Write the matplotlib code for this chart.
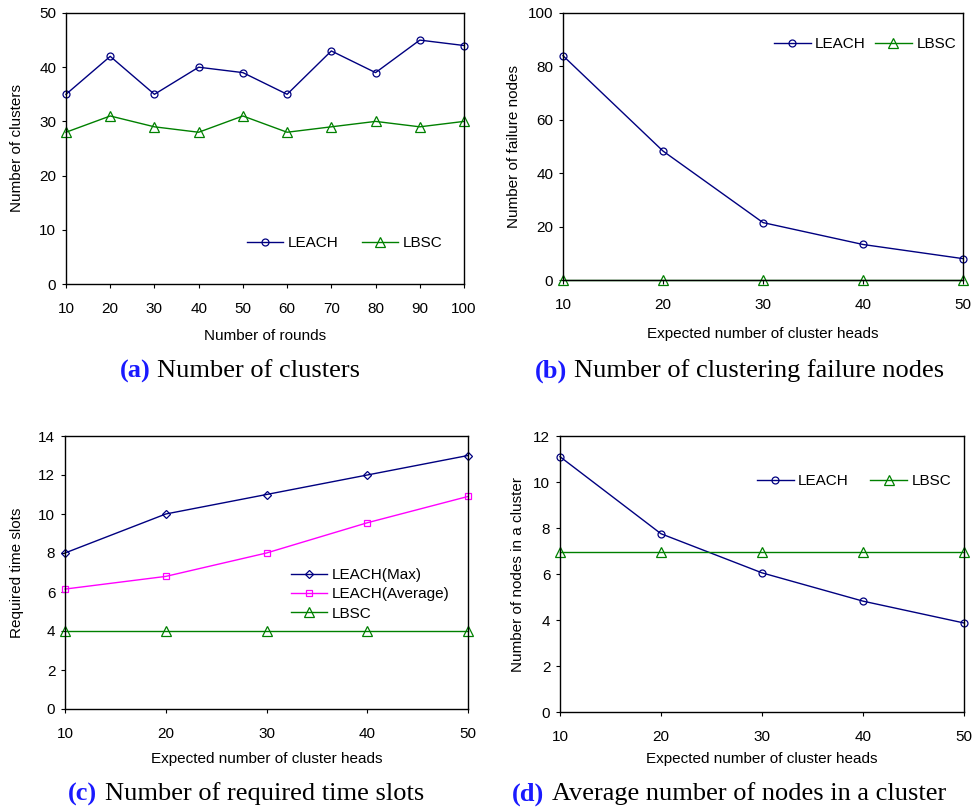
import matplotlib
matplotlib.use("Agg")
import matplotlib.pyplot as plt

plt.rcParams['font.family'] = ['Liberation Sans', 'DejaVu Sans']

# (a) Number of clusters
rounds = [10, 20, 30, 40, 50, 60, 70, 80, 90, 100]
a_leach = [35, 42, 35, 40, 39, 35, 43, 39, 45, 44]
a_lbsc = [28, 31, 29, 28, 31, 28, 29, 30, 29, 30]

# (b)-(d) share the same x values
heads = [10, 20, 30, 40, 50]
b_leach = [84, 48.3, 21.5, 13.3, 8]
b_lbsc = [0, 0, 0, 0, 0]

c_leach_max = [8, 10, 11, 12, 13]
c_leach_avg = [6.15, 6.8, 8, 9.55, 10.9]
c_lbsc = [4, 4, 4, 4, 4]

d_leach = [11.1, 7.75, 6.05, 4.82, 3.87]
d_lbsc = [6.95, 6.95, 6.95, 6.95, 6.95]

NAVY = '#000080'
GREEN = '#008000'
MAGENTA = '#FF00FF'

W, H = 974, 808
fig = plt.figure(figsize=(9.74, 8.08), dpi=100)


def make_ax(left, top, right, bottom):
    return fig.add_axes([left / W, 1 - bottom / H, (right - left) / W, (bottom - top) / H])


def style(ax, xlim, ylim, yticks, xticks, xlabel, ylabel, xpad, ypad):
    ax.set_xlim(*xlim)
    ax.set_ylim(*ylim)
    ax.set_xticks(xticks)
    ax.set_yticks(yticks)
    ax.tick_params(direction='out', length=3, width=0.8, labelsize=11)
    ax.tick_params(axis='x', pad=10)
    ax.tick_params(axis='y', pad=4)
    for s in ax.spines.values():
        s.set_linewidth(1.0)
    ax.set_xlabel(xlabel, fontsize=11, labelpad=xpad)
    ax.set_ylabel(ylabel, fontsize=11, labelpad=ypad)


def line(ax, x, y, color, marker, label):
    ms = {'o': 5, '^': 6.5, 's': 5, 'D': 4.5}[marker]
    ax.plot(x, y, color=color, lw=1.0, marker=marker, ms=ms, mfc='none',
            mec=color, mew=0.9, label=label, clip_on=False)


def caption(x_tag, x_text, y, tag, text):
    fig.text(x_tag / W, 1 - y / H, tag, color='#1a1aff', fontweight='bold',
             family='Liberation Serif', fontsize=19, va='center', ha='left')
    fig.text(x_text / W, 1 - y / H, text, color='black',
             family='Liberation Serif', fontsize=19, va='center', ha='left')


leg_kw = dict(frameon=False, fontsize=11, handlelength=2.4, handletextpad=0.3,
              borderaxespad=0, loc='center')

# (a)
ax = make_ax(66, 13, 464, 284)
line(ax, rounds, a_leach, NAVY, 'o', 'LEACH')
line(ax, rounds, a_lbsc, GREEN, '^', 'LBSC')
style(ax, (10, 100), (0, 50), range(0, 51, 10), rounds, 'Number of rounds',
      'Number of clusters', 9, 11)
ax.legend(ncol=2, columnspacing=1.5, bbox_to_anchor=(0.70, 0.15), **leg_kw)
caption(120, 157, 371, '(a)', 'Number of clusters')

# (b)
ax = make_ax(563, 13, 963, 280)
line(ax, heads, b_leach, NAVY, 'o', 'LEACH')
line(ax, heads, b_lbsc, GREEN, '^', 'LBSC')
style(ax, (10, 50), (0, 100), range(0, 101, 20), heads, 'Expected number of cluster heads',
      'Number of failure nodes', 11, 5)
ax.legend(ncol=2, columnspacing=0.6, bbox_to_anchor=(0.755, 0.884), **leg_kw)
caption(535, 574, 371, '(b)', 'Number of clustering failure nodes')

# (c)
ax = make_ax(65, 436, 468, 709)
line(ax, heads, c_leach_max, NAVY, 'D', 'LEACH(Max)')
line(ax, heads, c_leach_avg, MAGENTA, 's', 'LEACH(Average)')
line(ax, heads, c_lbsc, GREEN, '^', 'LBSC')
style(ax, (10, 50), (0, 14), range(0, 15, 2), heads, 'Expected number of cluster heads',
      'Required time slots', 8, 10)
ax.legend(ncol=1, labelspacing=0.35, bbox_to_anchor=(0.757, 0.42), **leg_kw)
caption(68, 105, 794, '(c)', 'Number of required time slots')

# (d)
ax = make_ax(560, 436, 964, 712)
line(ax, heads, d_leach, NAVY, 'o', 'LEACH')
line(ax, heads, d_lbsc, GREEN, '^', 'LBSC')
style(ax, (10, 50), (0, 12), range(0, 13, 2), heads, 'Expected number of cluster heads',
      'Number of nodes in a cluster', 6, 6)
ax.legend(ncol=2, columnspacing=1.4, bbox_to_anchor=(0.728, 0.837), **leg_kw)
caption(512, 552, 794, '(d)', 'Average number of nodes in a cluster')

fig.savefig('out.png', dpi=100)
